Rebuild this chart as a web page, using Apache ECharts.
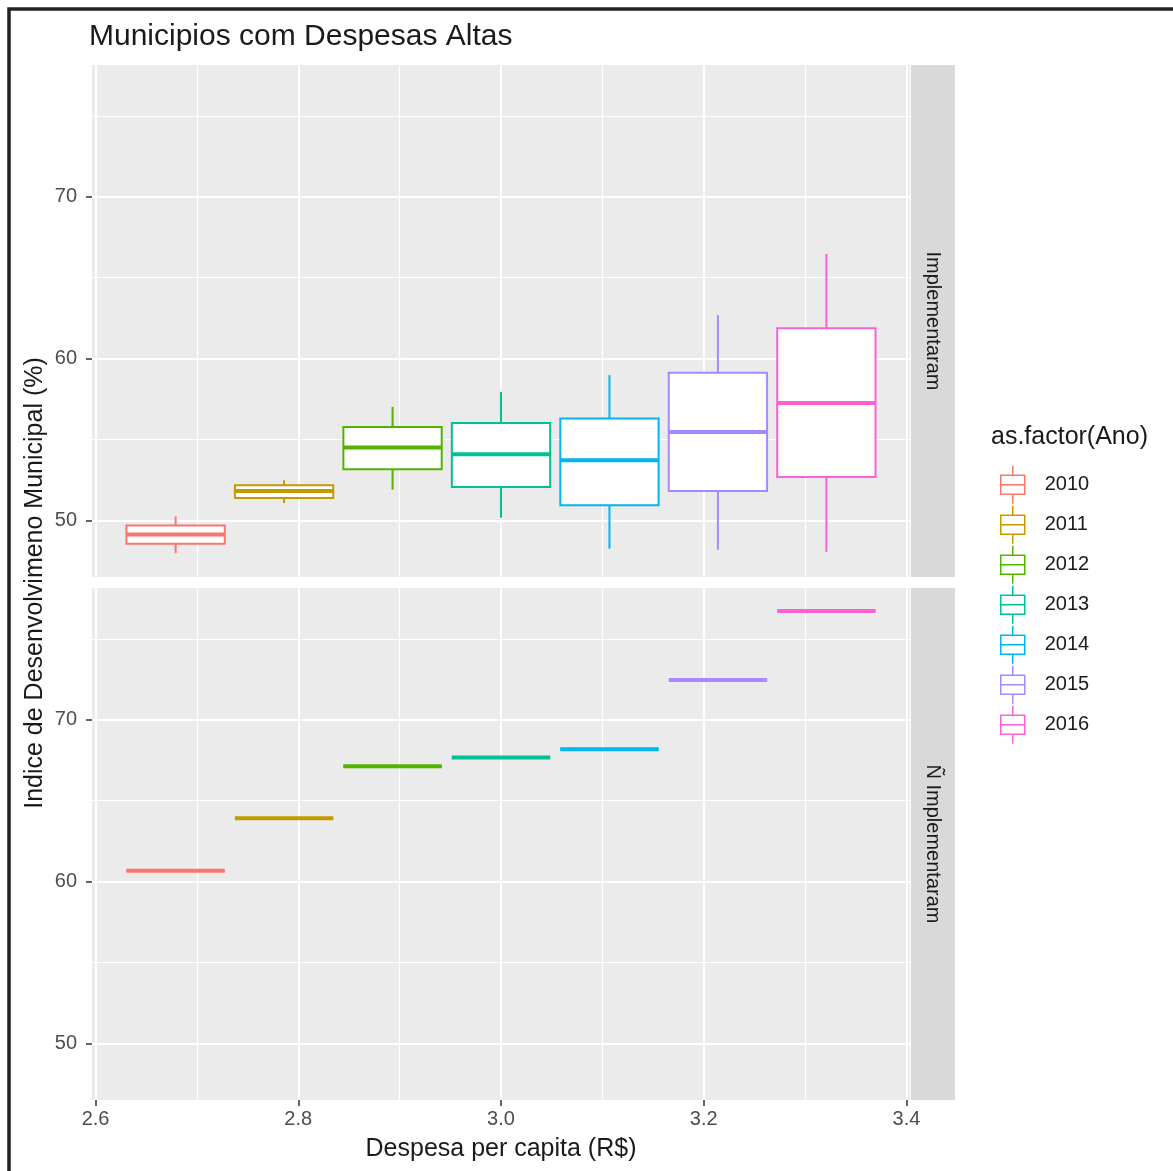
<!DOCTYPE html>
<html>
<head>
<meta charset="utf-8">
<title>Municipios com Despesas Altas</title>
<script src="https://cdn.jsdelivr.net/npm/echarts@6/dist/echarts.min.js"></script>
<style>
  html, body { margin: 0; padding: 0; background: #ffffff; }
  #chart { width: 1173px; height: 1171px; }
</style>
</head>
<body>
<div id="chart"></div>
<script>
// Years (colour groups) and their dodged positions on the spending axis
const years = ['2010', '2011', '2012', '2013', '2014', '2015', '2016'];
const xPositions = [2.679, 2.786, 2.893, 3.000, 3.107, 3.214, 3.321];

// "Implementaram" facet: boxplot statistics per year
const implLow    = [47.98, 51.07, 51.90, 50.17, 48.25, 48.19, 48.04];
const implQ1     = [48.56, 51.38, 53.16, 52.06, 50.93, 51.81, 52.68];
const implMedian = [49.13, 51.81, 54.50, 54.09, 53.72, 55.47, 57.26];
const implQ3     = [49.69, 52.17, 55.78, 56.02, 56.30, 59.12, 61.87];
const implHigh   = [50.25, 52.48, 57.02, 57.94, 58.98, 62.69, 66.47];

// "Ñ Implementaram" facet: a single municipality per year
const naoImplValues = [60.67, 63.91, 67.13, 67.67, 68.18, 72.46, 76.73];

// Axis breaks
const xMajorTicks = [2.6, 2.8, 3.0, 3.2, 3.4];
const xMinorTicks = [2.7, 2.9, 3.1, 3.3];
const yMajorTicks = [50, 60, 70];
const yMinorTicks = [55, 65, 75];

const facetLabels = ['Implementaram', 'Ñ Implementaram'];

const colors = ['#F8766D', '#C49A00', '#53B400', '#00C094', '#00B6EB', '#A58AFF', '#FB61D7'];
const FONT = '"Liberation Sans", Arial, sans-serif';
const BOX_HALF = 0.0485;

const X_MIN = 2.5965, X_MAX = 3.4035;
const Y_MIN = 46.5, Y_MAX = 78.15;

const panels = [
  { left: 92, top: 65, width: 818, height: 512 },
  { left: 92, top: 588, width: 818, height: 512 }
];

function renderBox(params, api) {
  const x = api.value(0);
  const lo = api.value(1), q1 = api.value(2), med = api.value(3), q3 = api.value(4), hi = api.value(5);
  const color = api.visual('color');
  const tl = api.coord([x - BOX_HALF, q3]);
  const br = api.coord([x + BOX_HALF, q1]);
  const mL = api.coord([x - BOX_HALF, med]);
  const mR = api.coord([x + BOX_HALF, med]);
  const top = api.coord([x, hi]);
  const bot = api.coord([x, lo]);
  const cx = top[0];
  return {
    type: 'group',
    children: [
      { type: 'line', shape: { x1: cx, y1: top[1], x2: cx, y2: tl[1] }, style: { stroke: color, lineWidth: 2 } },
      { type: 'line', shape: { x1: cx, y1: br[1], x2: cx, y2: bot[1] }, style: { stroke: color, lineWidth: 2 } },
      { type: 'rect', shape: { x: tl[0], y: tl[1], width: br[0] - tl[0], height: br[1] - tl[1] },
        style: { fill: '#ffffff', stroke: color, lineWidth: 2 } },
      { type: 'line', shape: { x1: mL[0], y1: mL[1], x2: mR[0], y2: mR[1] }, style: { stroke: color, lineWidth: 4 } }
    ]
  };
}

// White panel grid lines (major + minor), drawn as mark lines on an empty helper series
function gridLineSeries(idx) {
  const lines = [];
  yMinorTicks.forEach(v => lines.push({ yAxis: v, lineStyle: { width: 1.2 } }));
  xMinorTicks.forEach(v => lines.push({ xAxis: v, lineStyle: { width: 1.2 } }));
  yMajorTicks.forEach(v => lines.push({ yAxis: v, lineStyle: { width: 2 } }));
  xMajorTicks.forEach(v => lines.push({ xAxis: v, lineStyle: { width: 2 } }));
  return {
    type: 'line', name: 'grid' + idx, xAxisIndex: idx, yAxisIndex: idx, data: [], z: 1, silent: true,
    markLine: {
      z: 1, silent: true, animation: false, symbol: ['none', 'none'],
      label: { show: false }, emphasis: { disabled: true },
      lineStyle: { color: '#ffffff', type: 'solid' },
      data: lines
    }
  };
}

const series = [gridLineSeries(0), gridLineSeries(1)];
years.forEach((y, i) => {
  series.push({
    type: 'custom', name: y, xAxisIndex: 0, yAxisIndex: 0, z: 3,
    itemStyle: { color: colors[i] },
    renderItem: renderBox,
    encode: { x: 0, y: [1, 2, 3, 4, 5] },
    data: [[xPositions[i], implLow[i], implQ1[i], implMedian[i], implQ3[i], implHigh[i]]]
  });
  series.push({
    type: 'custom', name: y, xAxisIndex: 1, yAxisIndex: 1, z: 3,
    itemStyle: { color: colors[i] },
    renderItem: renderBox,
    encode: { x: 0, y: [1, 2, 3, 4, 5] },
    data: [[xPositions[i], naoImplValues[i], naoImplValues[i], naoImplValues[i], naoImplValues[i], naoImplValues[i]]]
  });
});

const legendIcon = 'path://M0,9.5 L24,9.5 L24,28.5 L0,28.5 Z M0,19 L24,19 M12,0 L12,9.5 M12,28.5 L12,38';

const graphics = [
  { type: 'rect', shape: { x: 9, y: 9, width: 1200, height: 1200 },
    style: { fill: 'none', stroke: '#222222', lineWidth: 3.5 }, z: 10 },
  { type: 'text', x: 89, y: 37, z: 10,
    style: { text: 'Municipios com Despesas Altas', font: '30px ' + FONT, fill: '#1a1a1a',
             textAlign: 'left', textVerticalAlign: 'middle' } },
  { type: 'text', x: 35, y: 583, rotation: Math.PI / 2, z: 10,
    style: { text: 'Indice de Desenvolvimeno Municipal (%)', font: '25px ' + FONT, fill: '#1a1a1a',
             textAlign: 'center', textVerticalAlign: 'middle' } },
  { type: 'text', x: 501, y: 1149, z: 10,
    style: { text: 'Despesa per capita (R$)', font: '25px ' + FONT, fill: '#1a1a1a',
             textAlign: 'center', textVerticalAlign: 'middle' } },
  { type: 'text', x: 991, y: 437, z: 10,
    style: { text: 'as.factor(Ano)', font: '25px ' + FONT, fill: '#1a1a1a',
             textAlign: 'left', textVerticalAlign: 'middle' } }
];
panels.forEach((p, i) => {
  graphics.push({ type: 'rect', shape: { x: p.left + p.width + 1, y: p.top, width: 44, height: p.height },
                  style: { fill: '#D9D9D9' }, z: 0 });
  graphics.push({ type: 'text', x: p.left + p.width + 23, y: p.top + p.height / 2, rotation: -Math.PI / 2, z: 10,
                  style: { text: facetLabels[i], font: '20px ' + FONT, fill: '#1a1a1a',
                           textAlign: 'center', textVerticalAlign: 'middle' } });
});

const option = {
  animation: false,
  backgroundColor: '#ffffff',
  grid: panels.map(p => ({ left: p.left, top: p.top, width: p.width, height: p.height,
                          show: true, backgroundColor: '#EBEBEB', borderWidth: 0, containLabel: false })),
  xAxis: panels.map((p, i) => ({
    type: 'value', gridIndex: i, min: X_MIN, max: X_MAX,
    axisLine: { show: false }, splitLine: { show: false },
    axisTick: { show: i === 1, length: 6, lineStyle: { color: '#333333', width: 1.5 }, customValues: xMajorTicks },
    axisLabel: { show: i === 1, customValues: xMajorTicks, formatter: v => v.toFixed(1),
                 color: '#4D4D4D', fontSize: 20, fontFamily: FONT, margin: 9 }
  })),
  yAxis: panels.map((p, i) => ({
    type: 'value', gridIndex: i, min: Y_MIN, max: Y_MAX,
    axisLine: { show: false }, splitLine: { show: false },
    axisTick: { show: true, length: 6, lineStyle: { color: '#333333', width: 1.5 }, customValues: yMajorTicks },
    axisLabel: { show: true, customValues: yMajorTicks, formatter: v => String(Math.round(v)),
                 color: '#4D4D4D', fontSize: 20, fontFamily: FONT, margin: 15 }
  })),
  legend: {
    orient: 'vertical', left: 995, top: 460,
    itemWidth: 24, itemHeight: 38, itemGap: 0.5,
    selectedMode: false,
    textStyle: { fontSize: 20, fontFamily: FONT, color: '#1a1a1a', padding: [0, 0, 0, 15] },
    data: years.map((y, i) => ({
      name: y, icon: legendIcon,
      itemStyle: { color: '#ffffff', borderColor: colors[i], borderWidth: 1.5 }
    }))
  },
  graphic: graphics,
  series: series
};

const chart = echarts.init(document.getElementById('chart'), null, { renderer: 'canvas' });
chart.setOption(option);
</script>
</body>
</html>
